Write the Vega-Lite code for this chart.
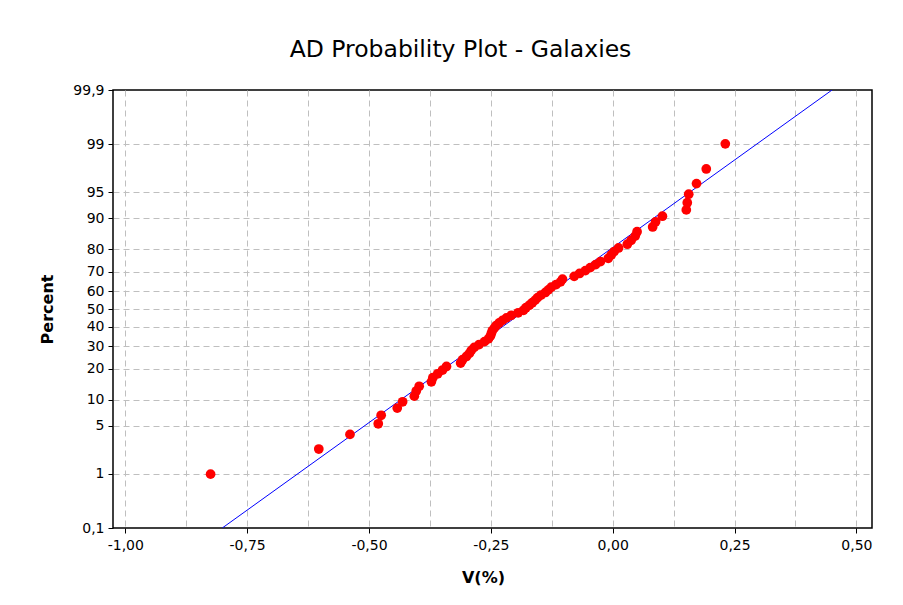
{
  "$schema": "https://vega.github.io/schema/vega-lite/v6.json",
  "autosize": {"type": "none"},
  "padding": {"left": 113, "top": 90, "right": 31, "bottom": 77},
  "width": 759,
  "height": 438,
  "background": "white",
  "title": {
    "text": "AD Probability Plot - Galaxies",
    "font": "DejaVu Sans",
    "fontSize": 23.5,
    "fontWeight": "normal",
    "color": "#000",
    "anchor": "middle",
    "frame": "group",
    "dx": -32,
    "offset": 22
  },
  "datasets": {
    "points": [
      {"v": -0.825, "percent": 0.99},
      {"v": -0.603, "percent": 2.41},
      {"v": -0.539, "percent": 3.84},
      {"v": -0.481, "percent": 5.26},
      {"v": -0.475, "percent": 6.68},
      {"v": -0.442, "percent": 8.10},
      {"v": -0.431, "percent": 9.52},
      {"v": -0.407, "percent": 10.94},
      {"v": -0.403, "percent": 12.36},
      {"v": -0.397, "percent": 13.78},
      {"v": -0.372, "percent": 15.20},
      {"v": -0.369, "percent": 16.62},
      {"v": -0.359, "percent": 18.04},
      {"v": -0.349, "percent": 19.46},
      {"v": -0.341, "percent": 20.88},
      {"v": -0.312, "percent": 22.30},
      {"v": -0.308, "percent": 23.72},
      {"v": -0.300, "percent": 25.14},
      {"v": -0.294, "percent": 26.56},
      {"v": -0.290, "percent": 27.98},
      {"v": -0.284, "percent": 29.40},
      {"v": -0.274, "percent": 30.82},
      {"v": -0.263, "percent": 32.24},
      {"v": -0.255, "percent": 33.66},
      {"v": -0.251, "percent": 35.09},
      {"v": -0.249, "percent": 36.51},
      {"v": -0.247, "percent": 37.93},
      {"v": -0.243, "percent": 39.35},
      {"v": -0.239, "percent": 40.77},
      {"v": -0.233, "percent": 42.19},
      {"v": -0.226, "percent": 43.61},
      {"v": -0.218, "percent": 45.03},
      {"v": -0.208, "percent": 46.45},
      {"v": -0.194, "percent": 47.87},
      {"v": -0.183, "percent": 49.29},
      {"v": -0.178, "percent": 50.71},
      {"v": -0.171, "percent": 52.13},
      {"v": -0.165, "percent": 53.55},
      {"v": -0.159, "percent": 54.97},
      {"v": -0.154, "percent": 56.39},
      {"v": -0.147, "percent": 57.81},
      {"v": -0.138, "percent": 59.23},
      {"v": -0.132, "percent": 60.65},
      {"v": -0.126, "percent": 62.07},
      {"v": -0.116, "percent": 63.49},
      {"v": -0.107, "percent": 64.91},
      {"v": -0.103, "percent": 66.34},
      {"v": -0.079, "percent": 67.76},
      {"v": -0.068, "percent": 69.18},
      {"v": -0.056, "percent": 70.60},
      {"v": -0.046, "percent": 72.02},
      {"v": -0.035, "percent": 73.44},
      {"v": -0.025, "percent": 74.86},
      {"v": -0.009, "percent": 76.28},
      {"v": -0.003, "percent": 77.70},
      {"v": 0.003, "percent": 79.12},
      {"v": 0.012, "percent": 80.54},
      {"v": 0.030, "percent": 81.96},
      {"v": 0.038, "percent": 83.38},
      {"v": 0.046, "percent": 84.80},
      {"v": 0.050, "percent": 86.22},
      {"v": 0.082, "percent": 87.64},
      {"v": 0.088, "percent": 89.06},
      {"v": 0.102, "percent": 90.48},
      {"v": 0.151, "percent": 91.90},
      {"v": 0.153, "percent": 93.32},
      {"v": 0.156, "percent": 94.74},
      {"v": 0.172, "percent": 96.16},
      {"v": 0.192, "percent": 97.59},
      {"v": 0.231, "percent": 99.01}
    ],
    "fit": [
      {"v": -0.801, "percent": 0.1},
      {"v": 0.450, "percent": 99.9}
    ]
  },
  "encoding": {
    "x": {
      "field": "v",
      "type": "quantitative",
      "scale": {"domain": [-1.0252, 0.532], "nice": false, "zero": false},
      "axis": {
        "title": "V(%)",
        "values": [-1, -0.875, -0.75, -0.625, -0.5, -0.375, -0.25, -0.125, 0, 0.125, 0.25, 0.375, 0.5],
        "labelExpr": "round(datum.value*8)%2 != 0 ? '' : replace(replace(format(datum.value, '.2f'), '.', ','), '\u2212', '-')",
        "tickOpacity": {"condition": {"test": "round(datum.value*8)%2 != 0", "value": 0}, "value": 1},
        "labelPadding": 5,
        "titleX": 370,
        "titleY": 49,
        "titleBaseline": "middle",
        "titleAlign": "center"
      }
    },
    "y": {
      "field": "z",
      "type": "quantitative",
      "scale": {"domain": [-3.0902, 3.0902], "nice": false, "zero": false},
      "axis": {
        "title": "Percent",
        "values": [-3.0902, -2.3263, -1.6449, -1.2816, -0.8416, -0.5244, -0.2533, 0, 0.2533, 0.5244, 0.8416, 1.2816, 1.6449, 2.3263, 3.0902],
        "labelExpr": "replace(toString(round(cumulativeNormal(datum.value)*1000)/10), '.', ',')",
        "gridOpacity": {"condition": {"test": "abs(datum.value) > 3", "value": 0}, "value": 1},
        "labelPadding": 4,
        "titleX": -66,
        "titleY": 219,
        "titleBaseline": "middle",
        "titleAlign": "center",
        "titleAngle": -90
      }
    }
  },
  "layer": [
    {
      "data": {"name": "fit"},
      "transform": [{"calculate": "quantileNormal(datum.percent/100)", "as": "z"}],
      "mark": {"type": "line", "color": "#0000ff", "strokeWidth": 1, "clip": true}
    },
    {
      "data": {"name": "points"},
      "transform": [{"calculate": "quantileNormal(datum.percent/100)", "as": "z"}],
      "mark": {"type": "circle", "color": "#ff0000", "opacity": 1, "size": 95}
    }
  ],
  "config": {
    "view": {"stroke": "#000", "strokeWidth": 1.5},
    "axis": {
      "domain": false,
      "grid": true,
      "gridColor": "#bfbfbf",
      "gridDash": [6, 4],
      "gridWidth": 1,
      "ticks": true,
      "tickColor": "#000",
      "tickSize": 5,
      "labelFont": "DejaVu Sans",
      "labelFontSize": 14,
      "labelColor": "#000",
      "titleFont": "DejaVu Sans",
      "titleFontSize": 16,
      "titleFontWeight": "bold",
      "titleColor": "#000"
    }
  }
}
